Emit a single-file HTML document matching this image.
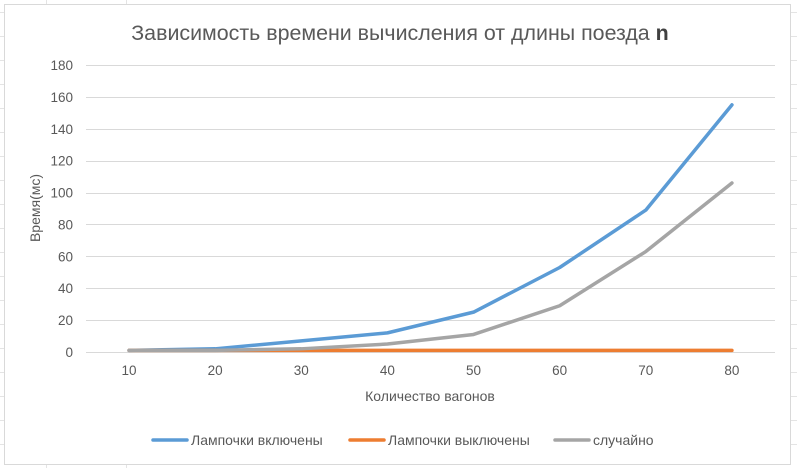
<!DOCTYPE html>
<html><head><meta charset="utf-8"><style>
body{margin:0;background:#fff;width:797px;height:468px;overflow:hidden;font-family:"Liberation Sans","DejaVu Sans",sans-serif}
svg text{font-family:"Liberation Sans","DejaVu Sans",sans-serif}
</style></head><body>
<svg id="c" width="797" height="468">
<g id="sheet"></g>
<rect x="4.5" y="4.5" width="786" height="460" fill="#fff" stroke="#d9d9d9"/>
<text x="400" y="40" text-anchor="middle" font-size="21.4" fill="#595959">Зависимость времени вычисления от длины поезда <tspan font-weight="bold" fill="#404040">n</tspan></text>
<g id="grid"></g><g id="yt"></g><g id="xt"></g><g id="lines"></g>
<text x="430" y="401" text-anchor="middle" font-size="14" fill="#595959">Количество вагонов</text>
<text transform="translate(40,208) rotate(-90)" text-anchor="middle" font-size="14" fill="#595959">Время(мс)</text>
<g id="legend"></g>
</svg>
<script>
const categories=[10,20,30,40,50,60,70,80];
const seriesOn=[1,2,7,12,25,53,89,155];
const seriesOff=[1,1,1,1,1,1,1,1];
const seriesRand=[1,1,2,5,11,29,63,106];
const yTicks=[0,20,40,60,80,100,120,140,160,180];
const seriesNames=["Лампочки включены","Лампочки выключены","случайно"];
const colors=["#5b9bd5","#ed7d31","#a5a5a5"];
const NS="http://www.w3.org/2000/svg";
const L=86,R=775,T=65,B=352;
const y=v=>B-(v/180)*(B-T);
const bw=(R-L)/categories.length;
const x=i=>L+bw*(i+0.5);
function mk(t,a,p){const e=document.createElementNS(NS,t);for(const k in a)e.setAttribute(k,a[k]);p.appendChild(e);return e;}
const sh=document.getElementById('sheet');
for(let yy=12;yy<468;yy+=24){const e=mk('line',{x1:0,x2:797,y1:yy+.5,y2:yy+.5,stroke:'#e4e4e4'},sh);

}
[46,126].forEach(xx=>{const e=mk('line',{x1:xx+.5,x2:xx+.5,y1:0,y2:468,stroke:'#e4e4e4'},sh);

});
const g=document.getElementById('grid'),yt=document.getElementById('yt'),xt=document.getElementById('xt');
yTicks.forEach(v=>{const l=mk('line',{x1:L,x2:R,y1:Math.round(y(v))+.5,y2:Math.round(y(v))+.5,stroke:'#d9d9d9'},g);


const t=mk('text',{x:73,y:y(v)+5,'text-anchor':'end','font-size':13.5,fill:'#595959'},yt);t.textContent=v;

});
categories.forEach((c,i)=>{const t=mk('text',{x:x(i),y:375,'text-anchor':'middle','font-size':13.5,fill:'#595959'},xt);t.textContent=c;

});
const ln=document.getElementById('lines');
[seriesOn,seriesOff,seriesRand].forEach((s,k)=>{const p=mk('polyline',{points:s.map((v,i)=>x(i)+','+y(v)).join(' '),fill:'none',stroke:colors[k],'stroke-width':3.5,'stroke-linejoin':'round','stroke-linecap':'round'},ln);

});
const lg=document.getElementById('legend');const lx=[153,350,555];
seriesNames.forEach((n,k)=>{const l=mk('line',{x1:lx[k],x2:lx[k]+34,y1:440,y2:440,stroke:colors[k],'stroke-width':3.5,'stroke-linecap':'round'},lg);


const t=mk('text',{x:lx[k]+38,y:445,'font-size':14,fill:'#595959'},lg);t.textContent=n;

});
</script>
</body></html>
